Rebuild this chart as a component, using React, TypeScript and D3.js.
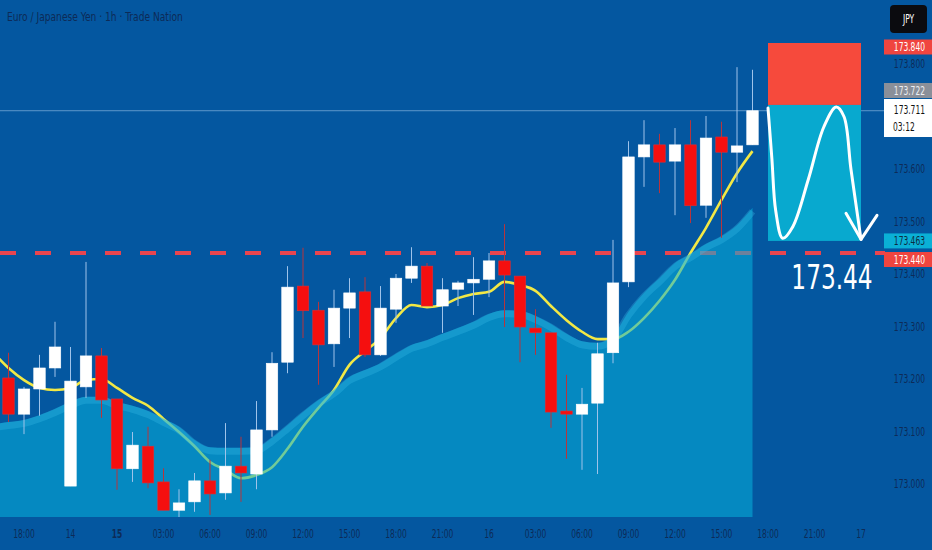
import React from 'react';
import * as d3 from 'd3';

// hour index 0 = 18:00 on the 13th
const candleIdx = d3.range(-1, 48);
const opens = [173.202, 173.133, 173.181, 173.221, 172.996, 173.185, 173.244, 173.162, 173.029, 173.072, 173.004, 172.950, 172.966, 173.006, 172.983, 173.034, 173.019, 173.103, 173.232, 173.377, 173.331, 173.267, 173.335, 173.366, 173.246, 173.333, 173.392, 173.415, 173.339, 173.371, 173.383, 173.390, 173.425, 173.396, 173.297, 173.288, 173.139, 173.133, 173.154, 173.250, 173.385, 173.623, 173.646, 173.615, 173.646, 173.531, 173.661, 173.632, 173.646];
const highs = [173.250, 173.185, 173.246, 173.309, 173.261, 173.423, 173.259, 173.162, 173.099, 173.109, 173.030, 172.990, 173.021, 173.046, 173.116, 173.090, 173.158, 173.251, 173.415, 173.450, 173.347, 173.370, 173.392, 173.394, 173.377, 173.400, 173.451, 173.421, 173.392, 173.387, 173.432, 173.440, 173.495, 173.396, 173.333, 173.288, 173.208, 173.183, 173.269, 173.465, 173.653, 173.693, 173.667, 173.678, 173.693, 173.701, 173.690, 173.794, 173.789];
const lows = [173.118, 173.095, 173.130, 173.204, 172.996, 173.164, 173.126, 172.989, 173.004, 172.992, 172.950, 172.937, 172.947, 172.941, 172.970, 172.966, 172.990, 173.090, 173.211, 173.278, 173.189, 173.223, 173.278, 173.242, 173.244, 173.307, 173.383, 173.339, 173.288, 173.339, 173.322, 173.356, 173.299, 173.232, 173.246, 173.107, 173.048, 173.027, 173.019, 173.230, 173.375, 173.566, 173.554, 173.512, 173.497, 173.507, 173.469, 173.575, 173.646];
const closes = [173.133, 173.181, 173.221, 173.261, 173.196, 173.244, 173.160, 173.029, 173.074, 173.002, 172.950, 172.964, 173.006, 172.981, 173.034, 173.021, 173.103, 173.230, 173.375, 173.330, 173.265, 173.335, 173.364, 173.246, 173.335, 173.392, 173.415, 173.339, 173.370, 173.383, 173.390, 173.425, 173.398, 173.299, 173.288, 173.137, 173.133, 173.152, 173.248, 173.383, 173.623, 173.646, 173.613, 173.646, 173.530, 173.659, 173.632, 173.644, 173.711];

const maIdx = d3.range(-2, 48);
const fastMA = [173.251, 173.221, 173.198, 173.183, 173.179, 173.183, 173.198, 173.200, 173.183, 173.164, 173.149, 173.124, 173.099, 173.072, 173.042, 173.027, 173.011, 173.017, 173.032, 173.067, 173.109, 173.145, 173.179, 173.227, 173.253, 173.278, 173.316, 173.341, 173.337, 173.341, 173.354, 173.362, 173.366, 173.385, 173.379, 173.368, 173.339, 173.312, 173.290, 173.276, 173.276, 173.290, 173.316, 173.349, 173.389, 173.440, 173.488, 173.541, 173.592, 173.634];
const slowMA = [173.114, 173.118, 173.122, 173.131, 173.143, 173.156, 173.166, 173.166, 173.156, 173.149, 173.139, 173.124, 173.109, 173.084, 173.070, 173.069, 173.069, 173.070, 173.088, 173.112, 173.137, 173.160, 173.179, 173.204, 173.217, 173.230, 173.248, 173.265, 173.274, 173.286, 173.297, 173.309, 173.324, 173.331, 173.330, 173.320, 173.305, 173.286, 173.272, 173.269, 173.282, 173.328, 173.364, 173.392, 173.421, 173.438, 173.457, 173.472, 173.493, 173.526];

const timeTicks = ['18:00', '14', '15', '03:00', '06:00', '09:00', '12:00', '15:00', '18:00', '21:00', '16', '03:00', '06:00', '09:00', '12:00', '15:00', '18:00', '21:00', '17'];
// 173.700 sits under the last-price tag, so it is not listed
const priceTicks = [173.0, 173.1, 173.2, 173.3, 173.4, 173.5, 173.6, 173.8];

const levelLine = 173.44;
const lastPrice = 173.711;
const countdown = '03:12';
const stopPrice = 173.840;
const entryPrice = 173.722;
const targetPrice = 173.463;
const positionSpan = [48, 54];
// hand drawn curve on the position box: [hour index, price]
const sketchCurve: [number, number][] = [
  [48.0, 173.716], [48.25, 173.62], [48.5, 173.52], [48.95, 173.468], [49.6, 173.49],
  [50.6, 173.58], [51.6, 173.68], [52.4, 173.718], [52.9, 173.70], [53.35, 173.6], [54.0, 173.466]
];

const W = 932;
const H = 550;
const plotRight = 885;
const plotBottom = 517;
const narrow = "'DejaVu Sans Condensed', sans-serif";
const axisColor = '#0d2b57';

// condensed text: squeezed horizontally so it matches the narrow chart font
const NText: React.FC<any> = ({ children, x = 0, y = 0, size = 11.5, sx = 0.73, ...rest }) => (
  <text transform={`translate(${x},${y}) scale(${sx},1)`} fontSize={size} fontFamily={narrow} {...rest}>
    {children}
  </text>
);

const App: React.FC = () => {
  const x = d3.scaleLinear().domain([0, 54]).range([24, 861]);
  const y = d3.scaleLinear().domain([173, 173.8]).range([484, 64]);
  const bodyW = 11.5;

  const fastLine = d3.line<number>()
    .x((_, i) => x(maIdx[i]))
    .y(d => y(d))
    .curve(d3.curveMonotoneX);

  const slowArea = d3.area<number>()
    .x((_, i) => x(maIdx[i]))
    .y0(plotBottom)
    .y1(d => y(d))
    .curve(d3.curveMonotoneX);

  const slowLine = d3.line<number>()
    .x((_, i) => x(maIdx[i]))
    .y(d => y(d) + 3.5)
    .curve(d3.curveMonotoneX);

  const sketch = d3.line<[number, number]>()
    .x(d => x(d[0]))
    .y(d => y(d[1]))
    .curve(d3.curveCatmullRom.alpha(0.5));

  const tipX = x(54.0);
  const tipY = y(173.466);

  const bx0 = x(positionSpan[0]);
  const bx1 = x(positionSpan[1]);

  const label = (val: number, bg: string, fg: string, yc: number) => (
    <g>
      <rect x={884} y={yc - 7.5} width={48} height={15} fill={bg} />
      <NText x={925} y={yc + 4} textAnchor="end" fill={fg}>{val.toFixed(3)}</NText>
    </g>
  );

  return (
    <div style={{ position: 'absolute', left: 0, top: 0 }}>
      <svg width={W} height={H} viewBox={`0 0 ${W} ${H}`} style={{ display: 'block' }}>
        <defs>
          <clipPath id="plot">
            <rect x={0} y={0} width={plotRight} height={plotBottom} />
          </clipPath>
        </defs>
        <rect width={W} height={H} fill="#0457a0" />

        <NText x={7} y={21} fill={axisColor} size={13} sx={0.78}>
          Euro / Japanese Yen · 1h · Trade Nation
        </NText>

        <g clipPath="url(#plot)">
          {/* current price line */}
          <line x1={0} x2={plotRight} y1={y(lastPrice)} y2={y(lastPrice)} stroke="#a9cdee" strokeOpacity={0.55} strokeWidth={1} />
          {/* support level */}
          <line x1={0} x2={plotRight} y1={y(levelLine)} y2={y(levelLine)} stroke="#e8454f" strokeWidth={4} strokeDasharray="16 19" />

          <path d={fastLine(fastMA) || ''} fill="none" stroke="#f2e845" strokeWidth={2.6} />

          <path d={slowArea(slowMA) || ''} fill="#07b2dc" fillOpacity={0.55} />
          <path d={slowLine(slowMA) || ''} fill="none" stroke="#3cc0ec" strokeOpacity={0.3} strokeWidth={7} />

          {candleIdx.map((t, i) => {
            const up = closes[i] >= opens[i];
            const cx = x(t);
            const top = y(Math.max(opens[i], closes[i]));
            const bot = y(Math.min(opens[i], closes[i]));
            return (
              <g key={t}>
                <line x1={cx} x2={cx} y1={y(highs[i])} y2={y(lows[i])} stroke={up ? '#9fc3ea' : '#b8343c'} strokeWidth={1} />
                <rect x={cx - bodyW / 2} y={top} width={bodyW} height={Math.max(bot - top, 1.5)}
                  fill={up ? '#ffffff' : '#f50f0f'} stroke={up ? '#ffffff' : '#d8303a'} strokeWidth={0.6} />
              </g>
            );
          })}

          {/* position box */}
          <rect x={bx0} y={y(stopPrice)} width={bx1 - bx0} height={y(entryPrice) - y(stopPrice)} fill="#f64a3c" />
          <rect x={bx0} y={y(entryPrice)} width={bx1 - bx0} height={y(targetPrice) - y(entryPrice)} fill="#08a9cf" />

          <path d={sketch(sketchCurve) || ''} fill="none" stroke="#ffffff" strokeWidth={3} strokeLinecap="round" />
          <path d={`M${tipX - 15},${tipY - 26}L${tipX},${tipY}L${tipX + 16},${tipY - 24}`} fill="none" stroke="#ffffff" strokeWidth={3} strokeLinecap="round" strokeLinejoin="round" />

          <NText x={832} y={289} textAnchor="middle" fill="#ffffff" size={34} sx={0.76}>
            {levelLine.toFixed(2)}
          </NText>
        </g>

        {/* price axis */}
        {priceTicks.map(p => (
          <NText key={p} x={925} y={y(p) + 4} textAnchor="end" fill={axisColor}>
            {p.toFixed(3)}
          </NText>
        ))}

        {label(stopPrice, '#f0453f', '#ffffff', 47)}
        {label(entryPrice, '#8a8f99', '#eef0f4', 90.5)}
        <g>
          <rect x={884} y={99} width={48} height={38} fill="#ffffff" />
          <NText x={925} y={114} textAnchor="end" fill="#111111">{lastPrice.toFixed(3)}</NText>
          <NText x={893} y={131} textAnchor="start" fill="#111111">{countdown}</NText>
        </g>
        {label(targetPrice, '#0ab0d6', '#0d2b3f', y(targetPrice))}
        {label(levelLine, '#f0453f', '#ffffff', 259.5)}

        <rect x={890} y={5} width={37} height={28} rx={4} fill="#0b0b0f" />
        <NText x={908.5} y={23} textAnchor="middle" fill="#ffffff">JPY</NText>

        {/* time axis */}
        {timeTicks.map((lbl, k) => (
          <NText key={k} x={x(k * 3)} y={538} textAnchor="middle" fill={axisColor}
            fontWeight={lbl === '15' ? 'bold' : 'normal'}>
            {lbl}
          </NText>
        ))}
      </svg>
    </div>
  );
};

export default App;
